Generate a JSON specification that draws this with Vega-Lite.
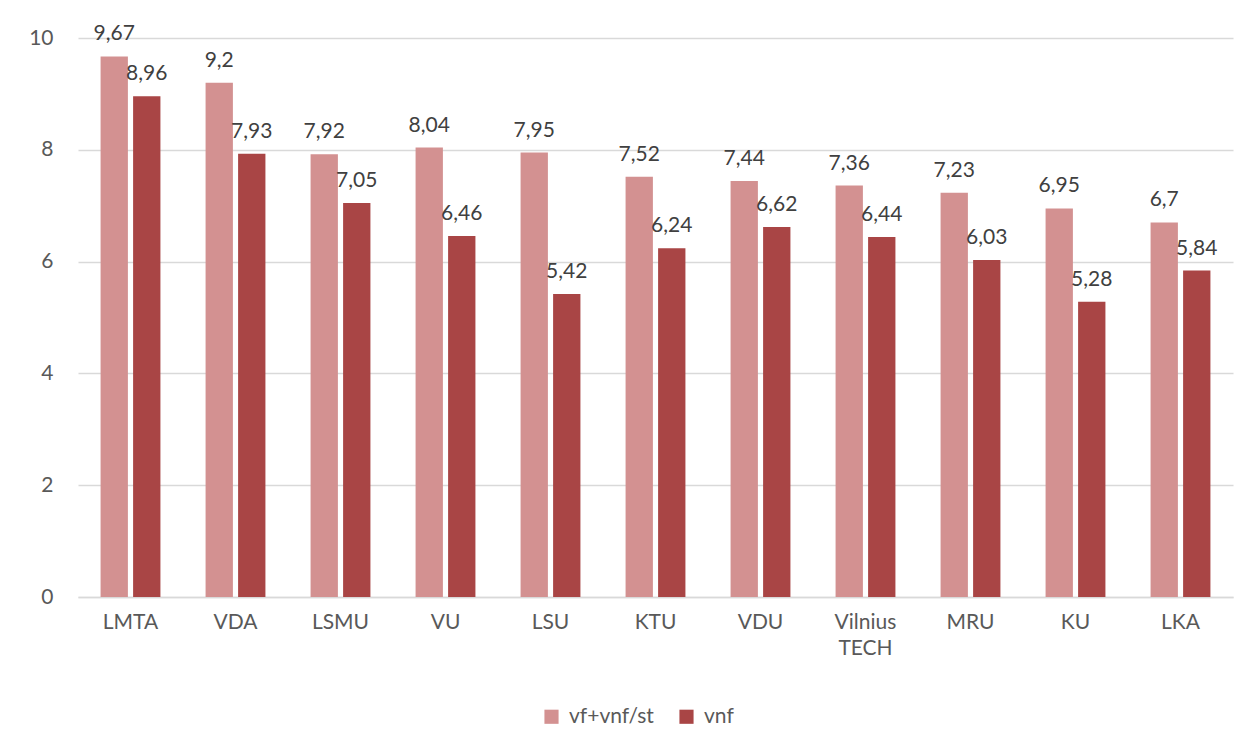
{
  "$schema": "https://vega.github.io/schema/vega-lite/v6.json",
  "width": 1155,
  "height": 559,
  "autosize": {"type": "none"},
  "padding": {"left": 78, "top": 38, "right": 20, "bottom": 156},
  "background": "white",
  "config": {
    "font": "Lato",
    "view": {"stroke": null},
    "axis": {"labelFont": "Lato", "labelFontSize": 21, "labelColor": "#595959", "titleFont": "Lato"},
    "legend": {"labelFont": "Lato", "labelFontSize": 21, "labelColor": "#595959"}
  },
  "data": {
    "values": [
      {"uni": "LMTA", "series": "vf+vnf/st", "value": 9.67, "label": "9,67"},
      {"uni": "LMTA", "series": "vnf", "value": 8.96, "label": "8,96"},
      {"uni": "VDA", "series": "vf+vnf/st", "value": 9.2, "label": "9,2"},
      {"uni": "VDA", "series": "vnf", "value": 7.93, "label": "7,93"},
      {"uni": "LSMU", "series": "vf+vnf/st", "value": 7.92, "label": "7,92"},
      {"uni": "LSMU", "series": "vnf", "value": 7.05, "label": "7,05"},
      {"uni": "VU", "series": "vf+vnf/st", "value": 8.04, "label": "8,04"},
      {"uni": "VU", "series": "vnf", "value": 6.46, "label": "6,46"},
      {"uni": "LSU", "series": "vf+vnf/st", "value": 7.95, "label": "7,95"},
      {"uni": "LSU", "series": "vnf", "value": 5.42, "label": "5,42"},
      {"uni": "KTU", "series": "vf+vnf/st", "value": 7.52, "label": "7,52"},
      {"uni": "KTU", "series": "vnf", "value": 6.24, "label": "6,24"},
      {"uni": "VDU", "series": "vf+vnf/st", "value": 7.44, "label": "7,44"},
      {"uni": "VDU", "series": "vnf", "value": 6.62, "label": "6,62"},
      {"uni": "Vilnius TECH", "series": "vf+vnf/st", "value": 7.36, "label": "7,36"},
      {"uni": "Vilnius TECH", "series": "vnf", "value": 6.44, "label": "6,44"},
      {"uni": "MRU", "series": "vf+vnf/st", "value": 7.23, "label": "7,23"},
      {"uni": "MRU", "series": "vnf", "value": 6.03, "label": "6,03"},
      {"uni": "KU", "series": "vf+vnf/st", "value": 6.95, "label": "6,95"},
      {"uni": "KU", "series": "vnf", "value": 5.28, "label": "5,28"},
      {"uni": "LKA", "series": "vf+vnf/st", "value": 6.7, "label": "6,7"},
      {"uni": "LKA", "series": "vnf", "value": 5.84, "label": "5,84"}
    ]
  },
  "encoding": {
    "x": {
      "field": "uni", "type": "nominal", "sort": null,
      "scale": {"paddingInner": 0.43, "paddingOuter": 0.215},
      "axis": {
        "title": null, "labelAngle": 0, "domainColor": "#D9D9D9", "domainWidth": 1.5,
        "ticks": false, "labelPadding": 14, "labelLineHeight": 26,
        "labelExpr": "split(datum.value, ' ')"
      }
    },
    "xOffset": {"field": "series", "type": "nominal", "sort": ["vf+vnf/st", "vnf"], "scale": {"paddingInner": 0.16}},
    "y": {
      "field": "value", "type": "quantitative",
      "scale": {"domain": [0, 10]},
      "axis": {
        "title": null, "values": [0, 2, 4, 6, 8, 10], "labelOverlap": false,
        "domain": false, "ticks": false, "labelPadding": 25,
        "gridColor": "#D9D9D9", "gridWidth": 1.3
      }
    }
  },
  "layer": [
    {
      "mark": {"type": "bar"},
      "encoding": {
        "color": {
          "field": "series", "type": "nominal",
          "scale": {"domain": ["vf+vnf/st", "vnf"], "range": ["#D39191", "#A94545"]},
          "legend": {
            "title": null, "orient": "none", "direction": "horizontal",
            "legendX": 463, "legendY": 668, "symbolType": "square", "symbolSize": 200,
            "symbolStrokeWidth": 0, "columnPadding": 22, "labelOffset": 7
          }
        }
      }
    },
    {
      "mark": {"type": "text", "baseline": "bottom", "dy": -12, "fontSize": 21, "color": "#404040", "font": "Lato"},
      "encoding": {"text": {"field": "label"}}
    }
  ]
}
